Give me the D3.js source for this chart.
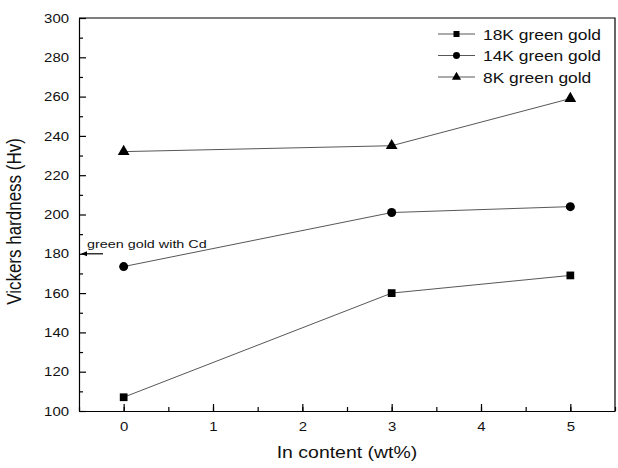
<!DOCTYPE html>
<html>
<head>
<meta charset="utf-8">
<script src="https://d3js.org/d3.v7.min.js"></script>
<style>
  body { margin: 0; background: #fff; }
  svg { font-family: Arial, "Liberation Sans", sans-serif; }
  .axis path, .axis line { stroke: #000; stroke-width: 1.2px; }
  .axis text { font-size: 13px; fill: #111; }
  .line { fill: none; stroke: #444; stroke-width: 0.9px; }
</style>
</head>
<body>
<svg id="chart"></svg>
<script>
// chart values
var inContent = [0, 3, 5];
var hv18K = [107, 160, 169];
var hv14K = [173.5, 201, 204];
var hv8K = [232, 235, 259];
var seriesNames = ["18K green gold", "14K green gold", "8K green gold"];
var xTicks = [0, 1, 2, 3, 4, 5];
var yTicks = [100, 120, 140, 160, 180, 200, 220, 240, 260, 280, 300];
var cdLevel = 180;

var W = 618, H = 468;
var margin = {top: 18, right: 3, bottom: 57, left: 79},
    width = W - margin.left - margin.right,
    height = H - margin.top - margin.bottom;

// the source picture is a bit wider than tall, so text gets stretched horizontally
function stretch(sel, sx) {
  sel.each(function () {
    var t = d3.select(this), x0 = +t.attr("x") || 0;
    t.attr("transform", "translate(" + x0 + ",0) scale(" + sx + ",1) translate(" + (-x0) + ",0)");
  });
}

var svg = d3.select("#chart").attr("width", W).attr("height", H)
  .append("g")
  .attr("transform", "translate(" + margin.left + "," + margin.top + ")");

var x = d3.scaleLinear().domain([-0.5, 5.5]).range([0, width]);
var y = d3.scaleLinear().domain([100, 300]).range([height, 0]);

// minor ticks
svg.append("g").attr("class", "axis")
  .attr("transform", "translate(0," + height + ")")
  .call(d3.axisBottom(x).tickValues(d3.range(-0.5, 5.6, 0.5)).tickSize(-4).tickFormat(""))
  .select(".domain").remove();
svg.append("g").attr("class", "axis")
  .call(d3.axisLeft(y).tickValues(d3.range(110, 300, 20)).tickSize(-4).tickFormat(""))
  .select(".domain").remove();

// major axes
var xAxis = svg.append("g").attr("class", "axis")
  .attr("transform", "translate(0," + height + ")")
  .call(d3.axisBottom(x).tickValues(xTicks).tickFormat(d3.format("d"))
    .tickSize(-7).tickPadding(11).tickSizeOuter(0));
var yAxis = svg.append("g").attr("class", "axis")
  .call(d3.axisLeft(y).tickValues(yTicks).tickSize(-7).tickPadding(10).tickSizeOuter(0));
stretch(xAxis.selectAll("text"), 1.15);
stretch(yAxis.selectAll("text"), 1.15);

// frame top/right
svg.append("path")
  .attr("d", "M0,0H" + width + "V" + height)
  .attr("fill", "none").attr("stroke", "#000").attr("stroke-width", 1.2);

// axis labels
var xLabel = svg.append("text")
  .attr("x", width / 2).attr("y", height + 47)
  .attr("text-anchor", "middle").attr("font-size", 16.5).attr("fill", "#111")
  .text("In content (wt%)");
stretch(xLabel, 1.18);
svg.append("text")
  .attr("transform", "translate(" + (-58) + "," + (height / 2 + 7) + ") rotate(-90) scale(1,1.15)")
  .attr("text-anchor", "middle").attr("font-size", 17).attr("fill", "#111")
  .text("Vickers hardness (Hv)");

var series = [
  {name: seriesNames[0], values: hv18K, shape: d3.symbolSquare, size: 60},
  {name: seriesNames[1], values: hv14K, shape: d3.symbolCircle, size: 64},
  {name: seriesNames[2], values: hv8K, shape: d3.symbolTriangle, size: 60}
];

var line = d3.line().x(d => x(d[0])).y(d => y(d[1]));

series.forEach(function (s) {
  var pts = inContent.map((c, i) => [c, s.values[i]]);
  svg.append("path").datum(pts).attr("class", "line").attr("d", line);
  svg.selectAll(null).data(pts).enter().append("path")
    .attr("transform", d => "translate(" + x(d[0]) + "," + y(d[1]) + ")")
    .attr("d", d3.symbol().type(s.shape).size(s.size))
    .attr("fill", "#000");
});

// annotation
var note = svg.append("text")
  .attr("x", 8).attr("y", y(cdLevel) - 6)
  .attr("font-size", 11.5).attr("fill", "#111")
  .text("green gold with Cd");
stretch(note, 1.25);
svg.append("line")
  .attr("x1", 24).attr("x2", 6)
  .attr("y1", y(cdLevel)).attr("y2", y(cdLevel))
  .attr("stroke", "#000").attr("stroke-width", 1.2);
svg.append("path")
  .attr("d", "M2," + y(cdLevel) + "l6,-2.5v5z")
  .attr("fill", "#000");

// legend
var leg = svg.append("g").attr("transform", "translate(" + (width - 177) + ",16)");
series.forEach(function (s, i) {
  var g = leg.append("g").attr("transform", "translate(0," + (i * 21.5) + ")");
  g.append("line").attr("x1", 0).attr("x2", 37).attr("y1", 0).attr("y2", 0)
    .attr("stroke", "#444").attr("stroke-width", 0.9);
  g.append("path").attr("transform", "translate(18.5,0)")
    .attr("d", d3.symbol().type(s.shape).size(s.size * 0.6)).attr("fill", "#000");
  var t = g.append("text").attr("x", 45).attr("y", 5.5)
    .attr("font-size", 15).attr("fill", "#111").text(s.name);
  stretch(t, 1.16);
});
</script>
</body>
</html>
